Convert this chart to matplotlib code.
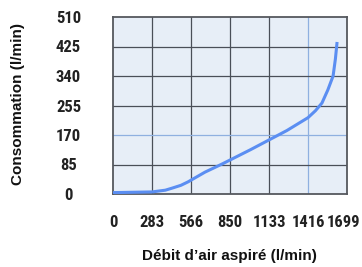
import matplotlib
matplotlib.use("Agg")
import matplotlib.pyplot as plt
from matplotlib import font_manager as fm
from matplotlib.transforms import ScaledTranslation

# Data
flow = [0, 283, 380, 430, 493, 545, 668, 795, 1000, 1263, 1416, 1470, 1517, 1560, 1598, 1615, 1627]
consumption = [4, 6, 11, 17, 25, 35, 63, 87, 128, 183, 220, 240, 262, 300, 340, 390, 438]
x_ticks = [0, 283, 566, 850, 1133, 1416, 1699]
y_ticks = [0, 85, 170, 255, 340, 425, 510]
x_label = "Débit d’air aspiré (l/min)"
y_label = "Consommation (l/min)"

names = {f.name for f in fm.fontManager.ttflist}
cands = ["Roboto Condensed", "Liberation Sans Narrow", "Open Sans Condensed", "Roboto", "DejaVu Sans"]
tick_family = [f for f in cands if f in names][:1] + ["DejaVu Sans"]
cond = tick_family[0] in ("Roboto Condensed", "Liberation Sans Narrow", "Open Sans Condensed")
tick_size = 12 if cond else 9.5
label_family = ["Liberation Sans", "DejaVu Sans"]

fig = plt.figure(figsize=(3.62, 2.67), dpi=100)
ax = fig.add_axes([113/362, 1-194/267, (347-113)/362, (194-17)/267])
ax.set_facecolor("#e7eef7")

ax.set_xlim(0, 1699)
ax.set_ylim(0, 510)
ax.set_xticks(x_ticks)
ax.set_yticks(y_ticks)
ax.set_xticklabels([str(v) for v in x_ticks])
ax.set_yticklabels([str(v) for v in y_ticks])

for v in x_ticks[1:-1]:
    c = "#8fb0e0" if v == 1416 else "#4a4f58"
    ax.axvline(v, color=c, lw=0.9, zorder=1)
for v in y_ticks[1:-1]:
    c = "#8fb0e0" if v == 170 else "#4a4f58"
    ax.axhline(v, color=c, lw=0.9, zorder=1)

ax.plot(flow, consumption, color="#5b8ef2", lw=2.2, solid_capstyle="butt", zorder=3)

for s in ax.spines.values():
    s.set_color("#55585e")
    s.set_linewidth(1.3)

ax.tick_params(axis="both", length=0)
ax.tick_params(axis="y", pad=32)
ax.tick_params(axis="x", pad=15)
for lab in ax.get_yticklabels():
    lab.set_horizontalalignment("center")
    lab.set_family(tick_family)
    lab.set_fontweight("bold")
    lab.set_fontsize(tick_size)
    lab.set_color("#222222")
xlabs = ax.get_xticklabels()
for lab in xlabs:
    lab.set_family(tick_family)
    lab.set_fontweight("bold")
    lab.set_fontsize(tick_size)
    lab.set_color("#222222")
xlabs[-1].set_transform(xlabs[-1].get_transform() + ScaledTranslation(-3/100, 0, fig.dpi_scale_trans))

fig.text(229/362, 1-256/267, x_label, ha="center", va="center",
         family=label_family, fontweight="bold", fontsize=11, color="#111111")
fig.text(18/362, 1-104/267, y_label, ha="center", va="center", rotation=90,
         family=label_family, fontweight="bold", fontsize=11, color="#111111")

fig.savefig("out.png", dpi=100)
